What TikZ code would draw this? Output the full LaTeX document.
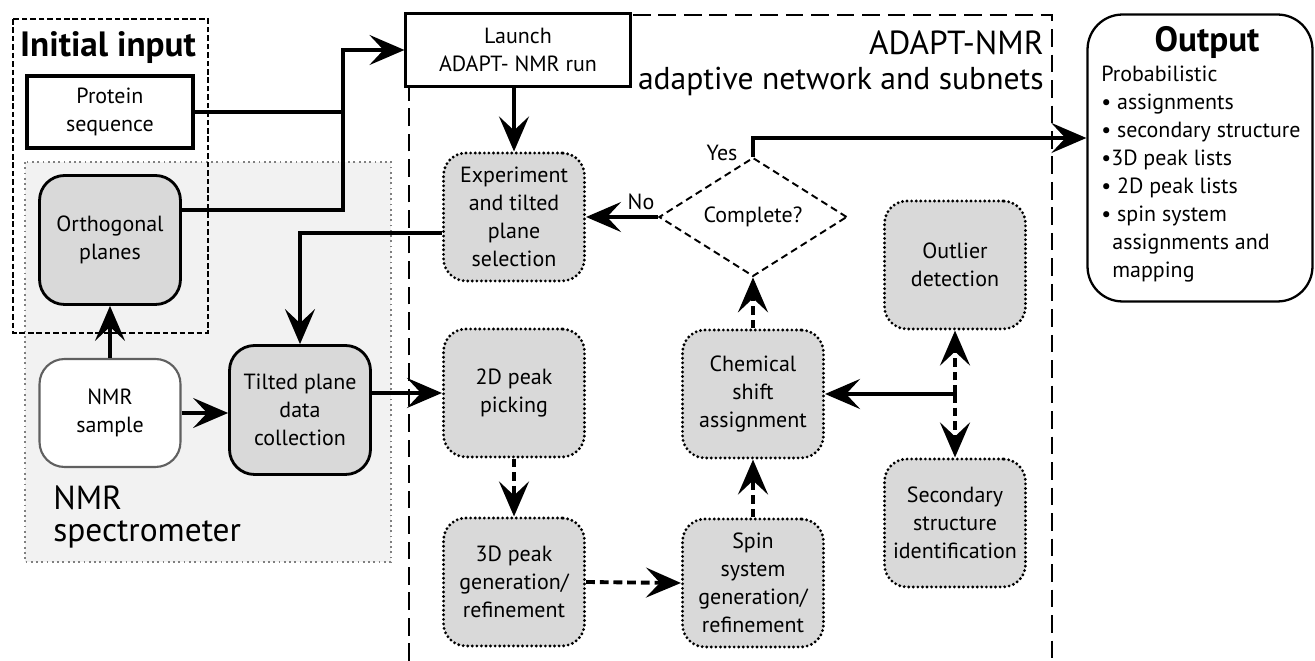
\documentclass[tikz,border=0pt]{standalone}
\usepackage{fontspec}
\setmainfont{PT Sans}
\usetikzlibrary{arrows.meta,shapes.geometric}
\definecolor{boxgray}{HTML}{D9D9D9}
\definecolor{areagray}{HTML}{F2F2F2}
\definecolor{edgegray}{HTML}{606060}
\tikzset{
	bigtip/.style={-{Stealth[length=7mm,width=6mm,inset=2.8mm]}},
	solidline/.style={line width=2pt,bigtip},
	plainline/.style={line width=2pt},
	dashline/.style={line width=2.2pt,dash pattern=on 5pt off 2.8pt,bigtip},
	boxfont/.style={font=\fontsize{12.5}{16}\selectfont,align=center,inner sep=1pt},
	subnet/.style={boxfont,rectangle,rounded corners=0.45cm,draw,fill=boxgray,line width=1.8pt,line cap=round,dash pattern=on 0pt off 2.6pt,minimum width=2.82cm,minimum height=2.56cm},
	device/.style={boxfont,rectangle,rounded corners=0.5cm,draw,fill=boxgray,line width=1.6pt,minimum width=2.82cm,minimum height=2.58cm}
}
\begin{document}
\begin{tikzpicture}[x=0.02cm,y=-0.02cm]
	\newcommand{\myfonttitle}[1]{
		\fontsize{19}{19}\selectfont{#1}
	}\newcommand{\myfontsub}[1]{
		\fontsize{18}{18}\selectfont{#1}
	}\newcommand{\myfontbold}[1]{
		\fontsize{20}{20}\selectfont\bfseries{#1}
	}%Page
	\useasboundingbox (0,0) rectangle (1315,661);
	%Gray area of the spectrometer
	\draw[gray,fill=areagray,line width=1pt,dotted] (25,162) rectangle (391,562);
	\node[anchor=base west,inner sep=0pt] (spectro) at (53,510) {\myfonttitle{NMR}};
	\node[anchor=base west,inner sep=0pt] (spectro2) at (53,542) {\myfonttitle{spectrometer}};
	%Initial input frame
	\draw[line width=1.2pt,dash pattern=on 3.2pt off 1.6pt] (13,19) rectangle (208,333);
	\node[anchor=base,inner sep=0pt] (inittitle) at (108,57) {\myfontbold{Initial input}};
	%ADAPT-NMR frame, open at the bottom
	\draw[line width=1.5pt,dash pattern=on 10pt off 4.5pt] (409,661) -- (409,88);
	\draw[line width=1.5pt,dash pattern=on 10pt off 4.5pt] (633,15) -- (1052,15) -- (1052,661);
	\node[anchor=base east,inner sep=0pt] (adapttitle) at (1044,55) {\myfonttitle{ADAPT-NMR}};
	\node[anchor=base east,inner sep=0pt] (adaptsub) at (1044,90) {\myfontsub{adaptive network and subnets}};
	%Boxes on the left
	\coordinate (cprotein) at (110,112);
	\node[boxfont,draw,line width=2pt,minimum width=3.32cm,minimum height=1.44cm] (protein) at (cprotein) {Protein\\sequence};
	\coordinate (corth) at (110,240);
	\node[device] (orth) at (corth) {Orthogonal\\planes};
	\coordinate (csample) at (110,413);
	\node[device,fill=white,draw=edgegray,line width=1.2pt,minimum height=2.16cm] (sample) at (csample) {NMR\\sample};
	\coordinate (ctilted) at (300,410);
	\node[device] (tilted) at (ctilted) {Tilted plane\\data\\collection};
	%Launch box
	\coordinate (claunch) at (518,50);
	\node[boxfont,draw,fill=white,line width=1.2pt,minimum width=4.5cm,minimum height=1.46cm] (launch) at (claunch) {Launch\\ADAPT- NMR run};
	%Subnets
	\coordinate (cexpt) at (514,217);
	\node[subnet] (expt) at (cexpt) {Experiment\\and tilted\\plane\\selection};
	\coordinate (cpk2d) at (514,393);
	\node[subnet] (pk2d) at (cpk2d) {2D peak\\picking};
	\coordinate (cpk3d) at (514,582);
	\node[subnet] (pk3d) at (cpk3d) {3D peak\\generation/\\refinement};
	\coordinate (cspin) at (753,583);
	\node[subnet] (spin) at (cspin) {Spin\\system\\generation/\\refinement};
	\coordinate (cchem) at (753,394);
	\node[subnet] (chem) at (cchem) {Chemical\\shift\\assignment};
	\coordinate (coutlier) at (955,265);
	\node[subnet] (outlier) at (coutlier) {Outlier\\detection};
	\coordinate (csecond) at (955,523);
	\node[subnet] (second) at (csecond) {Secondary\\structure\\identification};
	%Decision
	\coordinate (ccomplete) at (753,217);
	\node[boxfont,diamond,draw,line width=1.1pt,dash pattern=on 4pt off 2.5pt,inner sep=0pt,minimum width=3.76cm,minimum height=1.96cm] (complete) at (ccomplete) {Complete?};
	\node[boxfont] (yes) at (722,153) {Yes};
	\node[boxfont] (no) at (641,202) {No};
	%Output box
	\coordinate (coutput) at (1200,158);
	\node[draw,line width=1.3pt,rounded corners=0.7cm,minimum width=4.5cm,minimum height=5.74cm] (output) at (coutput) {};
	\node[anchor=base,inner sep=0pt] (outtitle) at (1207,52) {\myfontbold{Output}};
	\node[anchor=north west,align=left,inner sep=0pt,font=\fontsize{12.5}{15.9}\selectfont] (outlist) at (1101,66) {Probabilistic\\
		• assignments\\
		• secondary structure\\
		•3D peak lists\\
		• 2D peak lists\\
		• spin system\\
		\hspace*{0.22cm}assignments and\\
		\hspace*{0.22cm}mapping};
	%Connectors into the launch box
	\coordinate (merge) at (343,50);
	\draw[plainline] (protein.east) -- (protein.east -| merge);
	\draw[solidline] ([yshift=0.6cm]orth.east) -| (merge) -- (launch.west);
	\draw[solidline] (sample.north) -- (orth.south);
	\draw[solidline] (sample.east) -- (sample.east -| tilted.west);
	\draw[solidline] ([yshift=-0.32cm]expt.west) -| (tilted.north);
	\draw[solidline] (tilted.east |- pk2d.west) -- (pk2d.west);
	\draw[solidline] (launch.south -| expt.north) -- (expt.north);
	\draw[solidline] (complete.west) -- (expt.east);
	%Yes goes to the output
	\coordinate (yesturn) at (753,138);
	\draw[solidline] (complete.north) -- (yesturn) -- (yesturn -| output.west);
	%Dashed subnet links
	\draw[dashline] (pk2d.south) -- (pk3d.north);
	\draw[dashline] (pk3d.east) -- (spin.west);
	\draw[dashline] (spin.north) -- (chem.south);
	\draw[dashline] (chem.north) -- (complete.south);
	\coordinate (split) at (outlier.south |- chem.east);
	\draw[solidline] (split) -- (chem.east);
	\draw[dashline] (split) -- (outlier.south);
	\draw[dashline] (split) -- (second.north);
\end{tikzpicture}
\end{document}
